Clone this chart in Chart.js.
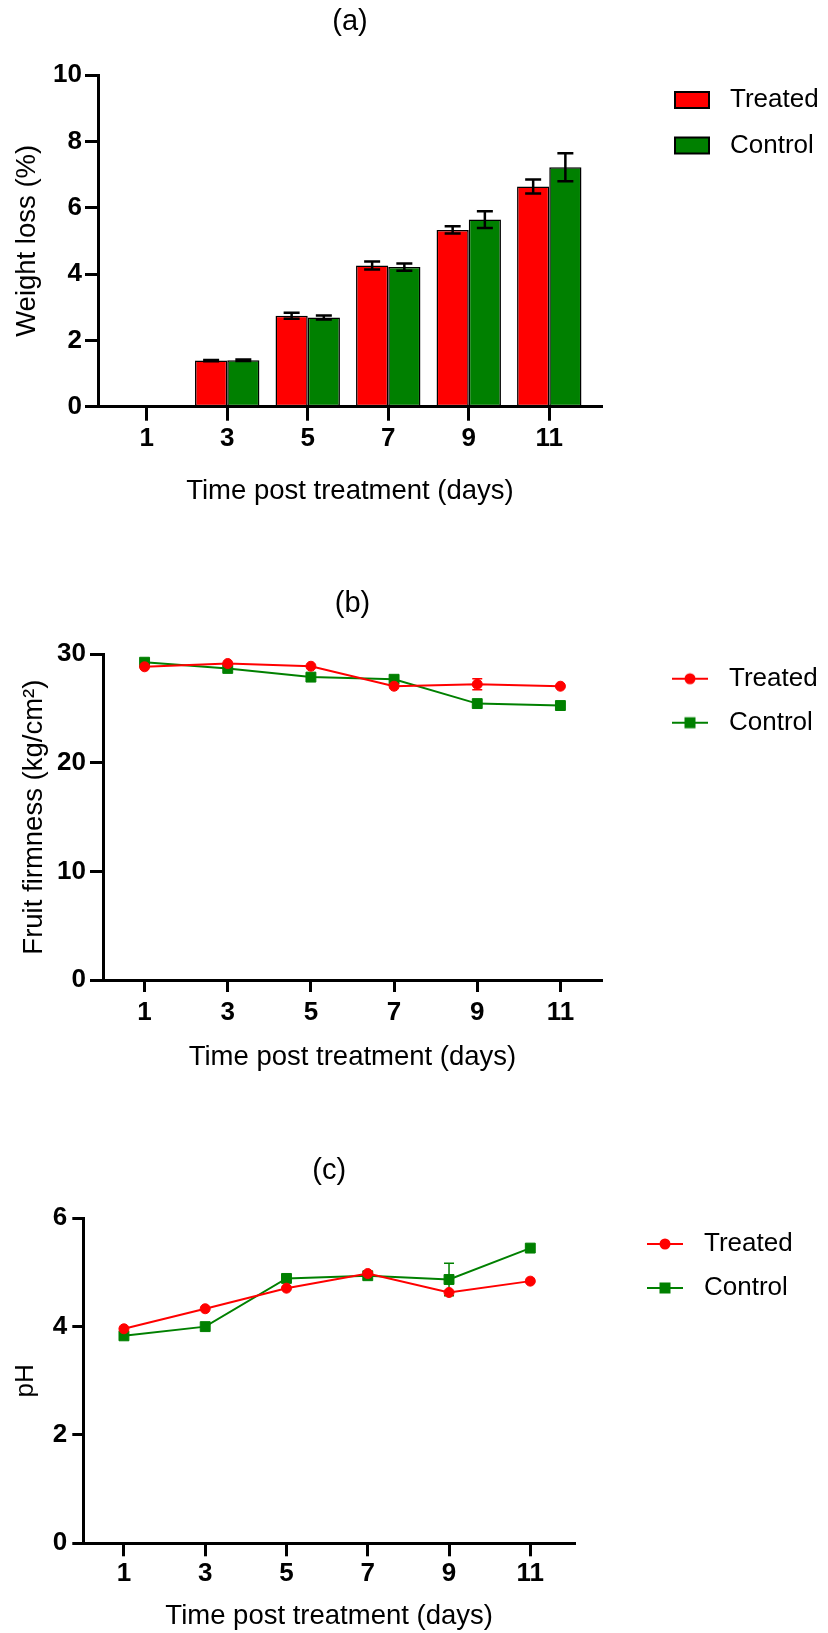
<!DOCTYPE html>
<html>
<head>
<meta charset="utf-8">
<script src="https://cdn.jsdelivr.net/npm/chart.js@4.4.1/dist/chart.umd.min.js"></script>
<style>
  html, body { margin: 0; padding: 0; background: #fff; }
  #page { position: relative; width: 828px; height: 1633px; }
  .panel { position: absolute; left: 0; width: 828px; }
</style>
</head>
<body>
<div id="page">
  <div class="panel" style="top:0px;height:520px"><canvas id="chartA"></canvas></div>
  <div class="panel" style="top:560px;height:520px"><canvas id="chartB"></canvas></div>
  <div class="panel" style="top:1110px;height:523px"><canvas id="chartC"></canvas></div>
</div>
<script>
// days after treatment (x axis of every panel)
const days = [1, 3, 5, 7, 9, 11];
const seriesNames = ['Treated', 'Control'];

// (a) weight loss, %
const weightTreated = [0, 1.39, 2.74, 4.26, 5.33, 6.64];
const weightTreatedErr = [0, 0.02, 0.09, 0.12, 0.11, 0.21];
const weightControl = [0, 1.40, 2.69, 4.21, 5.64, 7.22];
const weightControlErr = [0, 0.02, 0.06, 0.11, 0.25, 0.42];
const weightTicks = [0, 2, 4, 6, 8, 10];

// (b) fruit firmness, kg/cm2
const firmTreated = [28.85, 29.15, 28.9, 27.06, 27.24, 27.06];
const firmTreatedErr = [0, 0, 0, 0, 0.5, 0];
const firmControl = [29.27, 28.7, 27.9, 27.7, 25.46, 25.28];
const firmControlErr = [0, 0, 0, 0, 0, 0];
const firmTicks = [0, 10, 20, 30];

// (c) pH
const phTreated = [3.96, 4.33, 4.71, 4.98, 4.63, 4.84];
const phTreatedErr = [0, 0, 0, 0, 0, 0];
const phControl = [3.83, 4.0, 4.89, 4.94, 4.87, 5.45];
const phControlErr = [0, 0, 0, 0, 0.3, 0];
const phTicks = [0, 2, 4, 6];

const RED = '#ff0000';
const GREEN = '#008000';

Chart.defaults.font.family = "'Liberation Sans', Arial, Helvetica, sans-serif";
Chart.defaults.color = '#000';
Chart.defaults.animation = false;

const pts = (vals) => days.map((d, i) => ({ x: d, y: vals[i] }));

// error bars drawn from the y scale of the chart
function errorBars(errors, colors, lineWidth, cap, onTop) {
  const draw = (chart) => {
    const ctx = chart.ctx;
    const yScale = chart.scales.y;
    chart.data.datasets.forEach((ds, di) => {
      const meta = chart.getDatasetMeta(di);
      meta.data.forEach((el, i) => {
        const e = errors[di][i];
        if (!e) return;
        const v = ds.data[i].y;
        const top = yScale.getPixelForValue(v + e);
        const bot = yScale.getPixelForValue(v - e);
        ctx.save();
        ctx.strokeStyle = colors[di];
        ctx.lineWidth = lineWidth;
        ctx.beginPath();
        ctx.moveTo(el.x, top); ctx.lineTo(el.x, bot);
        ctx.moveTo(el.x - cap, top); ctx.lineTo(el.x + cap, top);
        ctx.moveTo(el.x - cap, bot); ctx.lineTo(el.x + cap, bot);
        ctx.stroke();
        ctx.restore();
      });
    });
  };
  return {
    id: 'errorBars',
    beforeDatasetsDraw(chart) { if (!onTop) draw(chart); },
    afterDatasetsDraw(chart) { if (onTop) draw(chart); }
  };
}

// put the legend box at a fixed spot right of the plot
function placeLegend(x, y) {
  return {
    id: 'placeLegend',
    afterLayout(chart) {
      const lg = chart.legend;
      lg.left = x; lg.top = y;
      lg.width = 828 - x; lg.height = 200;
      lg.right = x + lg.width; lg.bottom = y + lg.height;
    }
  };
}

function boxIcon(color) {
  const c = document.createElement('canvas');
  c.width = 44; c.height = 20;
  const g = c.getContext('2d');
  g.fillStyle = color;
  g.fillRect(1, 1, 36, 18);
  g.strokeStyle = '#000';
  g.lineWidth = 2;
  g.strokeRect(2, 2, 34, 16);
  return c;
}

function lineIcon(color, shape) {
  const c = document.createElement('canvas');
  c.width = 44; c.height = 20;
  const g = c.getContext('2d');
  g.strokeStyle = color;
  g.lineWidth = 2;
  g.beginPath(); g.moveTo(0, 10); g.lineTo(36, 10); g.stroke();
  g.fillStyle = color;
  if (shape === 'circle') {
    g.beginPath(); g.arc(18, 10, 5.5, 0, Math.PI * 2); g.fill();
  } else {
    g.fillRect(12.5, 4.5, 11, 11);
  }
  return c;
}

function legendOpts(icons, rowPad) {
  return {
    position: 'chartArea',
    align: 'start',
    labels: {
      usePointStyle: true,
      pointStyleWidth: 44,
      padding: rowPad,
      font: { size: 26 },
      generateLabels: (chart) => chart.data.datasets.map((ds, i) => ({
        text: ds.label, pointStyle: icons[i], fontColor: '#000',
        lineWidth: 0, hidden: false, datasetIndex: i
      }))
    }
  };
}

function titleOpts(text, padTop, padBottom) {
  return {
    display: true, text: text, fullSize: false,
    font: { size: 29, weight: 'normal' },
    padding: { top: padTop, bottom: padBottom }
  };
}

function xAxis(min, max, height, tickLen, pad, titlePad) {
  return {
    type: 'linear', min: min, max: max, offset: false,
    afterBuildTicks: (s) => { s.ticks = days.map((d) => ({ value: d })); },
    afterFit: (s) => { s.height = height; },
    grid: { drawOnChartArea: false, offset: false, tickLength: tickLen, tickWidth: 3, tickColor: '#000' },
    border: { color: '#000', width: 3 },
    ticks: { padding: pad, autoSkip: false, maxRotation: 0, font: { size: 26, weight: 'bold' } },
    title: {
      display: true, text: 'Time post treatment (days)',
      font: { size: 27.5 }, padding: { top: 0, bottom: titlePad }
    }
  };
}

function yAxis(tickVals, width, tickLen, pad, title, titleSize, titlePad) {
  return {
    type: 'linear', min: tickVals[0], max: tickVals[tickVals.length - 1],
    afterBuildTicks: (s) => { s.ticks = tickVals.map((v) => ({ value: v })); },
    afterFit: (s) => { s.width = width; },
    grid: { drawOnChartArea: false, tickLength: tickLen, tickWidth: 3, tickColor: '#000' },
    border: { color: '#000', width: 3 },
    ticks: { padding: pad, font: { size: 26, weight: 'bold' } },
    title: { display: true, text: title, font: { size: titleSize }, padding: { top: titlePad, bottom: 0 } }
  };
}

function lineSet(label, vals, color, shape, radius) {
  return {
    label: label, data: pts(vals),
    borderColor: color, backgroundColor: color, borderWidth: 2,
    pointStyle: shape, pointRadius: radius, pointBorderWidth: 1,
    pointBackgroundColor: color, pointBorderColor: color,
    tension: 0, clip: false
  };
}

// (a) bars
new Chart(document.getElementById('chartA'), {
  type: 'bar',
  data: {
    datasets: [
      { label: seriesNames[0], data: pts(weightTreated), backgroundColor: RED, borderColor: '#000', borderWidth: 1.5, borderSkipped: false, categoryPercentage: 0.8, barPercentage: 1 },
      { label: seriesNames[1], data: pts(weightControl), backgroundColor: GREEN, borderColor: '#000', borderWidth: 1.5, borderSkipped: false, categoryPercentage: 0.8, barPercentage: 1 }
    ]
  },
  options: {
    responsive: true, maintainAspectRatio: false, events: [],
    layout: { padding: { left: 0, top: 0, right: 226, bottom: 0 } },
    scales: {
      x: xAxis(-0.21, 12.31, 113.3, 14, 2.8, 11.8),
      y: yAxis(weightTicks, 98, 13, 3, 'Weight loss (%)', 27.5, 10.5)
    },
    plugins: {
      title: titleOpts('(a)', 4.6, 35.6),
      legend: legendOpts([boxIcon(RED), boxIcon(GREEN)], 19.5),
      tooltip: { enabled: false }
    }
  },
  plugins: [
    errorBars([weightTreatedErr, weightControlErr], ['#000', '#000'], 2.5, 8, true),
    placeLegend(673 - 19.5, 67.5)
  ]
});

// (b) firmness lines
new Chart(document.getElementById('chartB'), {
  type: 'line',
  data: {
    datasets: [
      lineSet(seriesNames[0], firmTreated, RED, 'circle', 5),
      lineSet(seriesNames[1], firmControl, GREEN, 'rect', 7)
    ]
  },
  options: {
    responsive: true, maintainAspectRatio: false, events: [],
    layout: { padding: { left: 0, top: 0, right: 226, bottom: 0 } },
    scales: {
      x: xAxis(0, 12, 100, 12, 4.8, 5.8),
      y: yAxis(firmTicks, 103, 13, 4, 'Fruit firmness (kg/cm²)', 27.5, 18)
    },
    plugins: {
      title: titleOpts('(b)', 26.6, 32.9),
      legend: legendOpts([lineIcon(RED, 'circle'), lineIcon(GREEN, 'rect')], 18),
      tooltip: { enabled: false }
    }
  },
  plugins: [
    errorBars([firmTreatedErr, firmControlErr], [RED, GREEN], 1.5, 5, false),
    placeLegend(672 - 18, 87.7)
  ]
});

// (c) pH lines
new Chart(document.getElementById('chartC'), {
  type: 'line',
  data: {
    datasets: [
      lineSet(seriesNames[0], phTreated, RED, 'circle', 5),
      lineSet(seriesNames[1], phControl, GREEN, 'rect', 7)
    ]
  },
  options: {
    responsive: true, maintainAspectRatio: false, events: [],
    layout: { padding: { left: 0, top: 0, right: 253, bottom: 0 } },
    scales: {
      x: xAxis(0, 12.1, 89.7, 13, 2.1, 0),
      y: yAxis(phTicks, 83.3, 11, 5, 'pH', 26, 10)
    },
    plugins: {
      title: titleOpts('(c)', 43.1, 30.4),
      legend: legendOpts([lineIcon(RED, 'circle'), lineIcon(GREEN, 'rect')], 18),
      tooltip: { enabled: false }
    }
  },
  plugins: [
    errorBars([phTreatedErr, phControlErr], [RED, GREEN], 1.5, 5, false),
    placeLegend(647 - 18, 103)
  ]
});
</script>
</body>
</html>
